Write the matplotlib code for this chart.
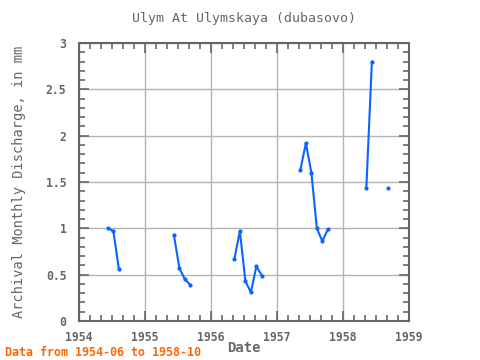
import numpy as np
import matplotlib
matplotlib.use('Agg')
import matplotlib.pyplot as plt
from matplotlib.ticker import MultipleLocator

# Monthly discharge, 1954-06 .. 1958-10 (nan = no data)
start_year = 1954
start_month = 6
values = [1.00, 0.97, 0.56, np.nan, np.nan, np.nan, np.nan,          # 1954
          np.nan, np.nan, np.nan, np.nan, np.nan, 0.93, 0.57, 0.45,  # 1955
          0.39, np.nan, np.nan, np.nan,
          np.nan, np.nan, np.nan, np.nan, 0.67, 0.97, 0.43, 0.31,    # 1956
          0.59, 0.49, np.nan, np.nan,
          np.nan, np.nan, np.nan, np.nan, 1.63, 1.92, 1.60, 1.00,    # 1957
          0.86, 0.99, np.nan, np.nan,
          np.nan, np.nan, np.nan, np.nan, 1.44, 2.80, np.nan, np.nan,  # 1958
          1.44, np.nan]

months = np.arange(len(values)) + (start_month - 1)
x = start_year + (months + 0.25) / 12.0
y = np.array(values)

gray = '#666666'
plt.rcParams['font.family'] = ['DejaVu Sans Mono']

fig = plt.figure(figsize=(4.8, 3.6), dpi=100)
ax = fig.add_axes([79/480, 39/360, 330/480, 278/360])

ax.plot(x, y, color='#0a64ff', lw=1.5, marker='o', ms=2)

ax.set_xlim(1954, 1959)
ax.set_ylim(0, 3)
ax.xaxis.set_major_locator(MultipleLocator(1))
ax.xaxis.set_minor_locator(MultipleLocator(1/6))
ax.yaxis.set_major_locator(MultipleLocator(0.5))
ax.yaxis.set_minor_locator(MultipleLocator(0.1))
ax.yaxis.set_major_formatter(plt.FuncFormatter(lambda v, p: f'{v:g}'))

ax.grid(True, which='major', color='#b4b4b4', lw=1)
ax.set_axisbelow(True)
for s in ax.spines.values():
    s.set_color(gray)
    s.set_linewidth(1.5)
ax.tick_params(which='both', direction='in', top=True, right=True, color=gray,
               labelcolor=gray, labelsize=8.3, width=1.2)
ax.tick_params(which='major', length=7)
ax.tick_params(which='minor', length=4)
ax.tick_params(axis='x', which='major', pad=7)
ax.tick_params(axis='y', which='major', pad=9)
for lab in ax.get_xticklabels() + ax.get_yticklabels():
    lab.set_fontweight('bold')

ax.set_title('Ulym At Ulymskaya (dubasovo)', color=gray, fontsize=9.5, pad=15)
ax.set_xlabel('Date', color=gray, fontsize=10, fontweight='bold', labelpad=-2)
ax.set_ylabel('Archival Monthly Discharge, in mm', color=gray, fontsize=9.8, labelpad=14)
fig.text(5/480, 1 - 352/360, 'Data from 1954-06 to 1958-10', color='#ff6600',
         fontsize=8.4, fontweight='bold', va='center', ha='left')

fig.savefig('out.png', dpi=100)
